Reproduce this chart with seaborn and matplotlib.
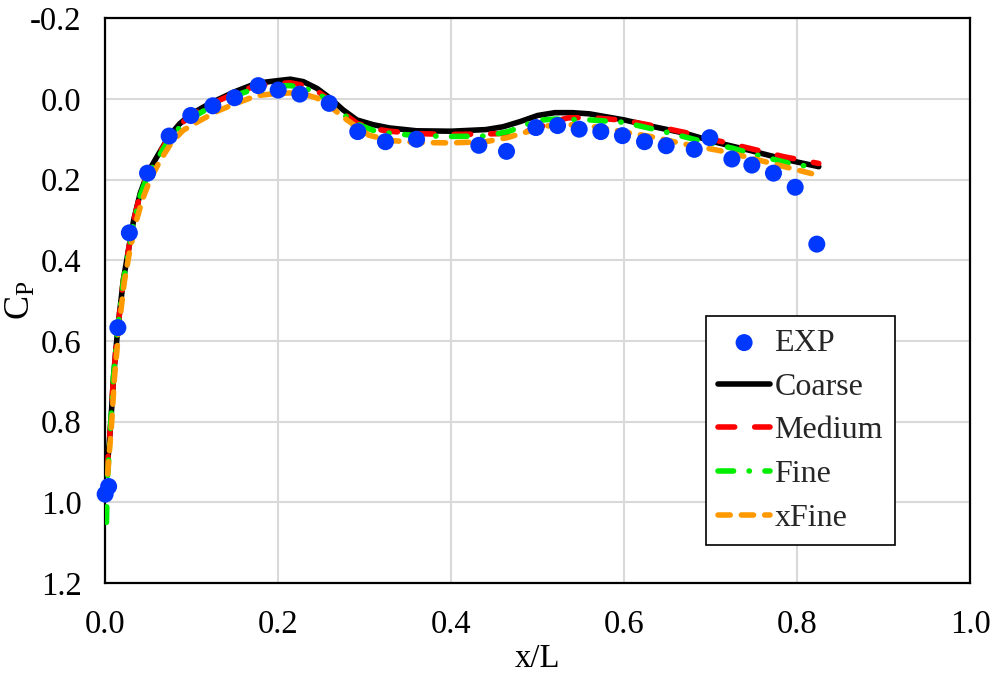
import matplotlib
matplotlib.use("Agg")
import matplotlib.pyplot as plt
import seaborn as sns

# Experimental pressure coefficient along the body
exp_x = [0.000, 0.004, 0.0147, 0.028, 0.049, 0.074, 0.099, 0.1245, 0.1495, 0.177,
         0.200, 0.225, 0.259, 0.292, 0.324, 0.360, 0.432, 0.464, 0.498, 0.523,
         0.548, 0.573, 0.598, 0.6235, 0.6486, 0.681, 0.699, 0.7245, 0.7476,
         0.7726, 0.7977, 0.8227]
exp_cp = [0.980, 0.961, 0.567, 0.332, 0.184, 0.092, 0.041, 0.017, -0.003, -0.033,
          -0.022, -0.012, 0.011, 0.081, 0.106, 0.100, 0.115, 0.130, 0.071, 0.066,
          0.075, 0.081, 0.091, 0.106, 0.116, 0.125, 0.096, 0.149, 0.164,
          0.184, 0.219, 0.360]

# CFD results on four grid levels
coarse_x = [0.002, 0.003, 0.0066, 0.0096, 0.0147, 0.021, 0.027, 0.033, 0.0405, 0.049,
            0.060, 0.074, 0.086, 0.098, 0.112, 0.125, 0.150, 0.175, 0.198, 0.214,
            0.229, 0.245, 0.260, 0.275, 0.291, 0.310, 0.329, 0.360, 0.400, 0.440,
            0.460, 0.480, 0.500, 0.520, 0.540, 0.560, 0.600, 0.630, 0.670, 0.707,
            0.746, 0.784, 0.825]
coarse_cp = [0.927, 0.900, 0.800, 0.690, 0.567, 0.449, 0.374, 0.300, 0.234, 0.184,
             0.143, 0.092, 0.062, 0.040, 0.022, 0.007, -0.018, -0.039, -0.045, -0.049,
             -0.043, -0.026, -0.002, 0.027, 0.052, 0.064, 0.072, 0.079, 0.080, 0.076,
             0.069, 0.056, 0.041, 0.034, 0.034, 0.037, 0.052, 0.067, 0.085, 0.108,
             0.128, 0.149, 0.168]

medium_x = [0.002, 0.003, 0.0066, 0.0096, 0.0147, 0.021, 0.027, 0.033, 0.0405, 0.049,
            0.060, 0.074, 0.086, 0.098, 0.112, 0.125, 0.150, 0.175, 0.198, 0.214,
            0.229, 0.245, 0.260, 0.275, 0.291, 0.310, 0.329, 0.360, 0.400, 0.440,
            0.470, 0.495, 0.515, 0.535, 0.560, 0.600, 0.630, 0.670, 0.707, 0.746,
            0.784, 0.825]
medium_cp = [0.927, 0.900, 0.800, 0.690, 0.567, 0.449, 0.374, 0.302, 0.236, 0.186,
             0.145, 0.094, 0.065, 0.043, 0.025, 0.010, -0.014, -0.033, -0.038, -0.040,
             -0.034, -0.020, 0.004, 0.035, 0.060, 0.074, 0.080, 0.086, 0.088, 0.087,
             0.085, 0.078, 0.058, 0.047, 0.046, 0.053, 0.065, 0.083, 0.103, 0.123,
             0.143, 0.160]

fine_x = [0.0015, 0.0025, 0.0066, 0.0096, 0.0147, 0.021, 0.027, 0.033, 0.0405, 0.049,
          0.060, 0.074, 0.086, 0.098, 0.112, 0.125, 0.150, 0.175, 0.198, 0.214,
          0.229, 0.245, 0.260, 0.275, 0.291, 0.310, 0.329, 0.360, 0.400, 0.440,
          0.466, 0.500, 0.520, 0.560, 0.600, 0.650, 0.688, 0.725, 0.760, 0.790,
          0.825]
fine_cp = [1.050, 0.950, 0.800, 0.690, 0.567, 0.452, 0.378, 0.305, 0.240, 0.190,
           0.150, 0.100, 0.071, 0.050, 0.032, 0.017, -0.008, -0.027, -0.032, -0.033,
           -0.028, -0.015, 0.007, 0.038, 0.062, 0.078, 0.085, 0.091, 0.093, 0.092,
           0.081, 0.053, 0.050, 0.052, 0.058, 0.083, 0.104, 0.122, 0.143, 0.159,
           0.172]

xfine_x = [0.003, 0.004, 0.0076, 0.0108, 0.016, 0.022, 0.028, 0.035, 0.043, 0.052,
           0.063, 0.077, 0.090, 0.110, 0.130, 0.150, 0.175, 0.195, 0.215, 0.230,
           0.245, 0.260, 0.275, 0.290, 0.305, 0.330, 0.360, 0.400, 0.440, 0.465,
           0.490, 0.510, 0.540, 0.570, 0.600, 0.630, 0.670, 0.710, 0.740, 0.780,
           0.820]
xfine_cp = [0.930, 0.900, 0.800, 0.690, 0.567, 0.455, 0.382, 0.310, 0.250, 0.200,
            0.155, 0.107, 0.078, 0.053, 0.030, 0.012, -0.008, -0.013, -0.015, -0.012,
            -0.002, 0.018, 0.045, 0.068, 0.090, 0.103, 0.108, 0.109, 0.106, 0.096,
            0.080, 0.067, 0.064, 0.070, 0.082, 0.093, 0.112, 0.128, 0.143, 0.165,
            0.187]

x_ticks = [0.0, 0.2, 0.4, 0.6, 0.8, 1.0]
y_ticks = [-0.2, 0.0, 0.2, 0.4, 0.6, 0.8, 1.0, 1.2]

sns.set_theme(style="white")
plt.rcParams["font.family"] = ["Liberation Serif", "DejaVu Serif"]
plt.rcParams["mathtext.fontset"] = "custom"
plt.rcParams["mathtext.rm"] = "Liberation Serif"
plt.rcParams["mathtext.it"] = "Liberation Serif:italic"

fig, ax = plt.subplots(figsize=(9.92, 6.77), dpi=100)
fig.subplots_adjust(left=0.106, right=0.978, top=0.973, bottom=0.139)

lw = 4.0
sns.lineplot(x=coarse_x, y=coarse_cp, ax=ax, sort=False, estimator=None,
             color="black", lw=lw, solid_capstyle="round", label="Coarse", zorder=2)
sns.lineplot(x=medium_x, y=medium_cp, ax=ax, sort=False, estimator=None,
             color="#FF0000", lw=lw, linestyle=(0, (3.0, 3.6)),
             dash_capstyle="round", label="Medium", zorder=3)
sns.lineplot(x=fine_x, y=fine_cp, ax=ax, sort=False, estimator=None,
             color="#00EE00", lw=lw, linestyle=(0, (2.8, 2.8, 0.05, 2.8)),
             dash_capstyle="round", label="Fine", zorder=4)
sns.lineplot(x=xfine_x, y=xfine_cp, ax=ax, sort=False, estimator=None,
             color="#FF9900", lw=lw, linestyle=(0, (2.2, 2.0)),
             dash_capstyle="round", label="xFine", zorder=5)
sns.scatterplot(x=exp_x, y=exp_cp, ax=ax, s=150, color="#0038FF",
                edgecolor="none", linewidth=0, label="EXP", zorder=6,
                clip_on=False)

ax.set_xlim(0.0, 1.0)
ax.set_ylim(1.2, -0.2)
ax.set_xticks(x_ticks)
ax.set_yticks(y_ticks)
ax.set_xticklabels([f"{v:.1f}" for v in x_ticks])
ax.set_yticklabels([f"{v:.1f}" for v in y_ticks])
ax.tick_params(axis="both", length=0, labelsize=23.5, colors="black")
ax.tick_params(axis="x", pad=19)
ax.tick_params(axis="y", pad=17)

ax.grid(True, color="#D9D9D9", lw=1.5)
ax.set_axisbelow(True)
for sp in ax.spines.values():
    sp.set_color("black")
    sp.set_linewidth(1.6)

ax.set_xlabel("x/L", fontsize=23.5, color="black")
ax.xaxis.set_label_coords(0.5, -0.108)
ax.set_ylabel(r"$\mathrm{C_P}$", fontsize=26, color="black")
ax.yaxis.set_label_coords(-0.078, 0.5)

handles, labels = ax.get_legend_handles_labels()
order = ["EXP", "Coarse", "Medium", "Fine", "xFine"]
hmap = dict(zip(labels, handles))
leg = ax.legend([hmap[k] for k in order], order, loc="lower right",
                bbox_to_anchor=(0.913, 0.067), borderaxespad=0,
                fontsize=23, frameon=True, fancybox=False, framealpha=1,
                edgecolor="black", handlelength=1.65, handletextpad=0.12,
                labelspacing=0.45, borderpad=0.38, markerscale=1.0)
leg.get_frame().set_linewidth(1.2)

fig.savefig("out.png", dpi=100)
